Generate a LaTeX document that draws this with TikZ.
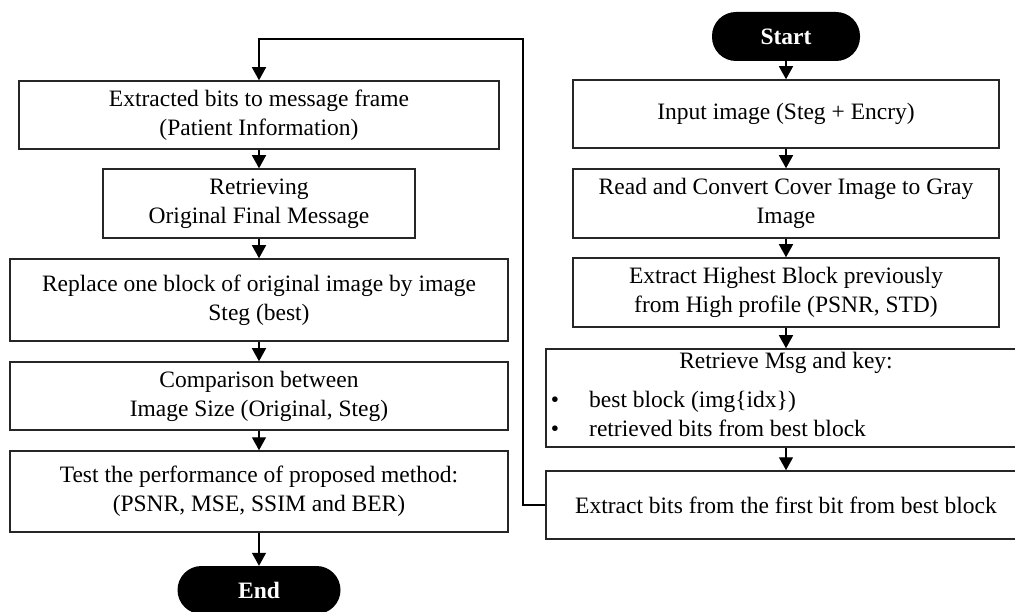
\documentclass[tikz,border=0pt]{standalone}
\usepackage{fontspec}
\setmainfont{Liberation Serif}
\usetikzlibrary{arrows.meta}
\begin{document}
\begin{tikzpicture}[x=1pt,y=-1pt,
  txt/.style={font=\fontsize{23.5}{29}\selectfont, inner sep=0pt},
  box/.style={txt, draw=black!85, line width=1.5pt, rectangle, align=center},
  term/.style={fill=black, text=white, rectangle, rounded corners=24pt, inner sep=0pt,
    font=\fontsize{23.5}{29}\selectfont\bfseries},
  arr/.style={-{Triangle[width=14pt,length=13pt]}, line width=1.4pt, draw=black}]
\useasboundingbox (0,0) rectangle (1015,612);
% right column
\node[term, minimum width=148pt, minimum height=49pt] (start) at (786,36.5) {Start};
\node[box, minimum width=426pt, minimum height=68pt] (r1) at (786,114) {Input image (Steg + Encry)};
\node[box, minimum width=426pt, minimum height=69pt] (r2) at (786,203.5) {Read and Convert Cover Image to Gray\\Image};
\node[box, minimum width=426pt, minimum height=69pt] (r3) at (786,292.5) {Extract Highest Block previously\\from High profile (PSNR, STD)};
\node[box, minimum width=480pt, minimum height=98pt] (r4) at (786,398) {};
\node[txt, anchor=base] (r4a) at (786,369) {Retrieve Msg and key:};
\node[txt, anchor=base] (r4b1) at (555,407) {\textbullet};
\node[txt, anchor=base west] (r4b) at (589,407) {best block (img\{idx\})};
\node[txt, anchor=base] (r4c1) at (555,436) {\textbullet};
\node[txt, anchor=base west] (r4c) at (589,436) {retrieved bits from best block};
\node[box, minimum width=480pt, minimum height=68pt] (r5) at (786,505) {Extract bits from the first bit from best block};
% left column
\node[box, minimum width=480pt, minimum height=68pt] (l1) at (259,115) {Extracted bits to message frame\\(Patient Information)};
\node[box, minimum width=312pt, minimum height=69pt] (l2) at (259,203.5) {Retrieving\\Original Final Message};
\node[box, minimum width=498pt, minimum height=82pt] (l3) at (259,300) {Replace one block of original image by image\\Steg (best)};
\node[box, minimum width=498pt, minimum height=68pt] (l4) at (259,396) {Comparison between\\Image Size (Original, Steg)};
\node[box, minimum width=498pt, minimum height=81pt] (l5) at (259,491.5) {Test the performance of proposed method:\\(PSNR, MSE, SSIM and BER)};
\node[term, minimum width=163pt, minimum height=48pt] (end) at (259,590) {End};
% connectors
\draw[arr] (start) -- (r1);
\draw[arr] (r1) -- (r2);
\draw[arr] (r2) -- (r3);
\draw[arr] (r3) -- (r4);
\draw[arr] (r4) -- (r5);
\coordinate (fb) at (523,39);
\draw[arr] (r5.west) -| (fb) -| (l1.north);
\draw[arr] (l1) -- (l2);
\draw[arr] (l2) -- (l3);
\draw[arr] (l3) -- (l4);
\draw[arr] (l4) -- (l5);
\draw[arr] (l5) -- (end);
\end{tikzpicture}
\end{document}
